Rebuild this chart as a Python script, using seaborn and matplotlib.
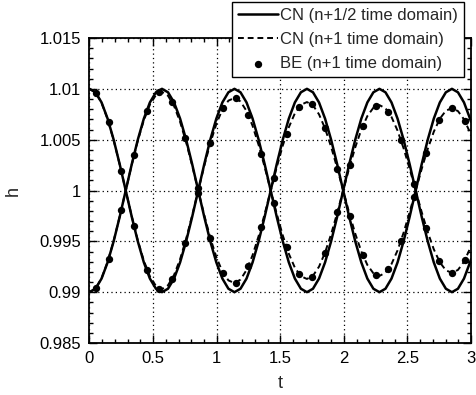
import numpy as np
import pandas as pd
import matplotlib
matplotlib.use("Agg")
import matplotlib.pyplot as plt
from matplotlib.ticker import MultipleLocator
import seaborn as sns

# ---------------- data ----------------
t = [0.0, 0.0475, 0.095, 0.1425, 0.19, 0.2375, 0.285, 0.3325, 0.38, 0.4275,
     0.475, 0.5225, 0.57, 0.6175, 0.665, 0.7125, 0.76, 0.8075, 0.855, 0.9025,
     0.95, 0.9975, 1.045, 1.0925, 1.14, 1.1875, 1.235, 1.2825, 1.33, 1.3775,
     1.425, 1.4725, 1.52, 1.5675, 1.615, 1.6625, 1.71, 1.7575, 1.805, 1.8525,
     1.9, 1.9475, 1.995, 2.0425, 2.09, 2.1375, 2.185, 2.2325, 2.28, 2.3275,
     2.375, 2.4225, 2.47, 2.5175, 2.565, 2.6125, 2.66, 2.7075, 2.755, 2.8025,
     2.85, 2.8975, 2.945, 2.9925, 3.0]

cn_half_a = [1.01000, 1.00966, 1.00866, 1.00707, 1.00500, 1.00259, 1.00000, 0.99741, 0.99500, 0.99293,
             0.99134, 0.99034, 0.99000, 0.99034, 0.99134, 0.99293, 0.99500, 0.99741, 1.00000, 1.00259,
             1.00500, 1.00707, 1.00866, 1.00966, 1.01000, 1.00966, 1.00866, 1.00707, 1.00500, 1.00259,
             1.00000, 0.99741, 0.99500, 0.99293, 0.99134, 0.99034, 0.99000, 0.99034, 0.99134, 0.99293,
             0.99500, 0.99741, 1.00000, 1.00259, 1.00500, 1.00707, 1.00866, 1.00966, 1.01000, 1.00966,
             1.00866, 1.00707, 1.00500, 1.00259, 1.00000, 0.99741, 0.99500, 0.99293, 0.99134, 0.99034,
             0.99000, 0.99034, 0.99134, 0.99293, 0.99323]
cn_half_b = [0.99000, 0.99034, 0.99134, 0.99293, 0.99500, 0.99741, 1.00000, 1.00259, 1.00500, 1.00707,
             1.00866, 1.00966, 1.01000, 1.00966, 1.00866, 1.00707, 1.00500, 1.00259, 1.00000, 0.99741,
             0.99500, 0.99293, 0.99134, 0.99034, 0.99000, 0.99034, 0.99134, 0.99293, 0.99500, 0.99741,
             1.00000, 1.00259, 1.00500, 1.00707, 1.00866, 1.00966, 1.01000, 1.00966, 1.00866, 1.00707,
             1.00500, 1.00259, 1.00000, 0.99741, 0.99500, 0.99293, 0.99134, 0.99034, 0.99000, 0.99034,
             0.99134, 0.99293, 0.99500, 0.99741, 1.00000, 1.00259, 1.00500, 1.00707, 1.00866, 1.00966,
             1.01000, 1.00966, 1.00866, 1.00707, 1.00677]

cn_full_a = [1.01000, 1.00964, 1.00862, 1.00702, 1.00495, 1.00256, 1.00000, 0.99746, 0.99510, 0.99309,
             0.99156, 0.99061, 0.99030, 0.99068, 0.99169, 0.99325, 0.99525, 0.99755, 1.00000, 1.00242,
             1.00465, 1.00654, 1.00797, 1.00884, 1.00910, 1.00876, 1.00782, 1.00636, 1.00448, 1.00231,
             1.00000, 0.99771, 0.99558, 0.99378, 0.99241, 0.99157, 0.99130, 0.99162, 0.99251, 0.99390,
             0.99570, 0.99778, 1.00000, 1.00221, 1.00425, 1.00599, 1.00732, 1.00814, 1.00840, 1.00809,
             1.00723, 1.00589, 1.00415, 1.00214, 1.00000, 0.99787, 0.99590, 0.99422, 0.99294, 0.99215,
             0.99190, 0.99219, 0.99300, 0.99429, 0.99458]
cn_full_b = [0.99000, 0.99036, 0.99138, 0.99298, 0.99505, 0.99744, 1.00000, 1.00254, 1.00490, 1.00691,
             1.00844, 1.00939, 1.00970, 1.00932, 1.00831, 1.00675, 1.00475, 1.00245, 1.00000, 0.99758,
             0.99535, 0.99346, 0.99203, 0.99116, 0.99090, 0.99124, 0.99218, 0.99364, 0.99552, 0.99769,
             1.00000, 1.00229, 1.00442, 1.00622, 1.00759, 1.00843, 1.00870, 1.00838, 1.00749, 1.00610,
             1.00430, 1.00222, 1.00000, 0.99779, 0.99575, 0.99401, 0.99268, 0.99186, 0.99160, 0.99191,
             0.99277, 0.99411, 0.99585, 0.99786, 1.00000, 1.00213, 1.00410, 1.00578, 1.00706, 1.00785,
             1.00810, 1.00781, 1.00700, 1.00571, 1.00542]

t_be = [0.05, 0.15, 0.25, 0.35, 0.45, 0.55, 0.65, 0.75, 0.85, 0.95,
        1.05, 1.15, 1.25, 1.35, 1.45, 1.55, 1.65, 1.75, 1.85, 1.95,
        2.05, 2.15, 2.25, 2.35, 2.45, 2.55, 2.65, 2.75, 2.85, 2.95]
be_a = [1.00961, 1.00675, 1.00191, 0.99652, 0.99218, 0.99035, 0.99130, 0.99479, 0.99974, 1.00465,
        1.00808, 1.00908, 1.00742, 1.00360, 0.99878, 0.99440, 0.99174, 0.99153, 0.99381, 0.99790,
        1.00255, 1.00638, 1.00830, 1.00775, 1.00492, 1.00068, 0.99630, 0.99306, 0.99190, 0.99316]
be_b = [0.99039, 0.99325, 0.99809, 1.00348, 1.00782, 1.00965, 1.00870, 1.00521, 1.00026, 0.99535,
        0.99192, 0.99092, 0.99258, 0.99640, 1.00122, 1.00560, 1.00826, 1.00847, 1.00619, 1.00210,
        0.99745, 0.99362, 0.99170, 0.99225, 0.99508, 0.99932, 1.00370, 1.00694, 1.00810, 1.00684]

x_ticks = [0, 0.5, 1, 1.5, 2, 2.5, 3]
x_tick_labels = ["0", "0.5", "1", "1.5", "2", "2.5", "3"]
y_ticks = [0.985, 0.99, 0.995, 1.0, 1.005, 1.01, 1.015]
y_tick_labels = ["0.985", "0.99", "0.995", "1", "1.005", "1.01", "1.015"]

labels = ["CN (n+1/2 time domain)", "CN (n+1 time domain)", "BE (n+1 time domain)"]

# ---------------- plot ----------------
sns.set_style("ticks")
plt.rcParams["font.family"] = ["Liberation Sans", "DejaVu Sans"]

fig = plt.figure(figsize=(4.77, 3.95), dpi=100)
ax = fig.add_axes([0.1876, 0.1316, 0.7998, 0.7722])

dash = (0, (3, 2))
sns.lineplot(x=t, y=cn_half_a, ax=ax, color="black", lw=1.8, sort=False,
             estimator=None, label=labels[0])
sns.lineplot(x=t, y=cn_half_b, ax=ax, color="black", lw=1.8, sort=False,
             estimator=None, label="_nolegend_")
sns.lineplot(x=t, y=cn_full_a, ax=ax, color="black", lw=1.4, sort=False,
             estimator=None, linestyle=dash, label=labels[1])
sns.lineplot(x=t, y=cn_full_b, ax=ax, color="black", lw=1.4, sort=False,
             estimator=None, linestyle=dash, label="_nolegend_")
sns.scatterplot(x=t_be, y=be_a, ax=ax, color="black", s=28, linewidth=0,
                label=labels[2], zorder=5)
sns.scatterplot(x=t_be, y=be_b, ax=ax, color="black", s=28, linewidth=0,
                label="_nolegend_", zorder=5)

handles, labs = ax.get_legend_handles_labels()
if ax.get_legend() is not None:
    ax.get_legend().remove()

ax.set_xlim(0, 3)
ax.set_ylim(0.985, 1.015)
ax.set_xticks(x_ticks, x_tick_labels)
ax.set_yticks(y_ticks, y_tick_labels)
ax.xaxis.set_minor_locator(MultipleLocator(0.1))
ax.yaxis.set_minor_locator(MultipleLocator(0.001))
ax.tick_params(which="both", direction="in", top=True, right=True,
               colors="black", labelsize=12, width=1.0)
ax.tick_params(which="major", length=6, pad=6)
ax.tick_params(which="minor", length=3)
ax.grid(True, which="major", color="black", linestyle=(0, (1, 2.5)), lw=0.9)
for sp in ax.spines.values():
    sp.set_linewidth(1.3)
    sp.set_color("black")

ax.set_xlabel("t", fontsize=13, labelpad=6)
ax.set_ylabel("h", fontsize=13, labelpad=13)

leg = fig.legend(handles, labs, loc="upper left",
                 bbox_to_anchor=(232 / 477, 1 - 2 / 395),
                 frameon=True, fancybox=False, framealpha=1, edgecolor="black",
                 fontsize=12, handlelength=2.4, handletextpad=0.15,
                 borderpad=0.35, labelspacing=0.55, borderaxespad=0,
                 scatterpoints=1)
leg.get_frame().set_linewidth(1.0)

fig.savefig("out.png", dpi=100)
